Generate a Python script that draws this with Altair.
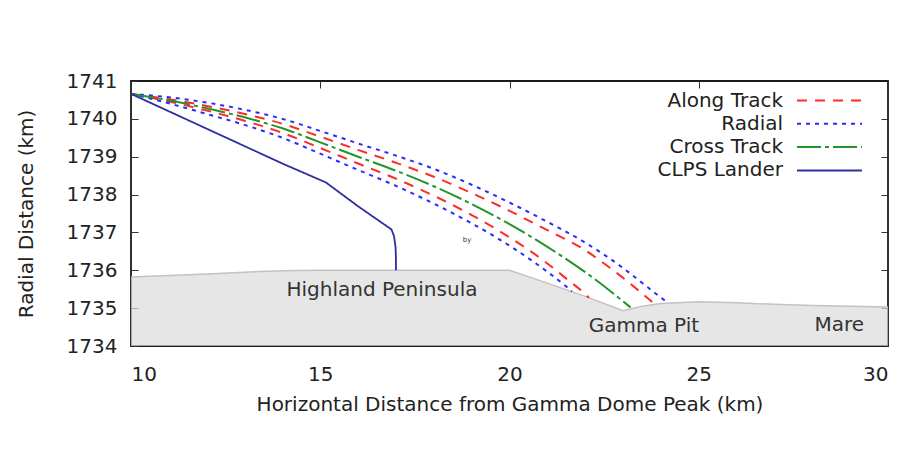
import altair as alt
import pandas as pd

# ---------------- data ----------------
terrain_x = [10, 11, 12, 13, 14, 15, 16, 17, 18, 19, 20, 21, 22, 23, 23.5, 24, 25, 26, 27, 28, 29, 30]
terrain_y = [1735.82, 1735.86, 1735.90, 1735.95, 1735.99, 1736.0, 1736.0, 1736.0, 1736.0, 1736.0,
             1736.0, 1735.66, 1735.31, 1734.93, 1735.05, 1735.12, 1735.17, 1735.14, 1735.10, 1735.07,
             1735.05, 1735.03]

cross_x = [10, 11, 12, 13, 14, 15, 16, 17, 18, 19, 20, 21, 22, 22.5, 23, 23.2]
cross_y = [1740.66, 1740.49, 1740.28, 1740.04, 1739.75, 1739.38, 1739.00, 1738.63, 1738.22, 1737.75,
           1737.22, 1736.62, 1735.95, 1735.58, 1735.18, 1735.02]

along_hi_x = [10, 11, 12, 13, 14, 15, 16, 17, 18, 19, 20, 21, 22, 22.5, 23, 23.5, 23.84]
along_hi_y = [1740.66, 1740.52, 1740.34, 1740.13, 1739.87, 1739.53, 1739.18, 1738.84, 1738.47, 1738.04,
              1737.57, 1737.06, 1736.53, 1736.18, 1735.80, 1735.39, 1735.10]
along_lo_x = [10, 11, 12, 13, 14, 15, 16, 17, 18, 19, 20, 21, 21.5, 22, 22.1]
along_lo_y = [1740.66, 1740.46, 1740.22, 1739.95, 1739.63, 1739.23, 1738.82, 1738.42, 1737.97, 1737.46,
              1736.87, 1736.18, 1735.78, 1735.37, 1735.27]

radial_hi_x = [10, 11, 12, 13, 14, 15, 16, 17, 18, 19, 20, 21, 22, 23, 23.5, 24, 24.2]
radial_hi_y = [1740.66, 1740.57, 1740.43, 1740.24, 1740.00, 1739.68, 1739.35, 1739.03, 1738.68, 1738.26,
               1737.79, 1737.28, 1736.73, 1736.06, 1735.67, 1735.28, 1735.13]
radial_lo_x = [10, 11, 12, 13, 14, 15, 16, 17, 18, 19, 20, 21, 21.5, 21.65]
radial_lo_y = [1740.66, 1740.41, 1740.13, 1739.84, 1739.50, 1739.08, 1738.65, 1738.23, 1737.76, 1737.24,
               1736.65, 1735.96, 1735.57, 1735.44]

lander_x = [10, 11, 12, 13, 14, 15.15, 16.0, 16.88, 16.95, 16.99, 17.0, 17.0]
lander_y = [1740.66, 1740.20, 1739.74, 1739.28, 1738.82, 1738.32, 1737.69, 1737.08, 1736.9, 1736.6, 1736.3, 1736.0]

series_names = ["Along Track", "Radial", "Cross Track", "CLPS Lander"]
series_colors = ["#ff2a2a", "#2a2aff", "#22962a", "#2e2e9e"]
series_dashes = [[10, 8], [4, 5], [24, 4, 4, 4], [1, 0]]

label_text = ["Highland Peninsula", "Gamma Pit", "Mare"]
label_x = [16.63, 23.55, 28.71]
label_y = [1735.47, 1734.52, 1734.55]

note_text = ["by"]
note_x = [18.88]
note_y = [1736.79]

x_ticks = [10, 15, 20, 25, 30]
y_ticks = [1734, 1735, 1736, 1737, 1738, 1739, 1740, 1741]

# ---------------- tables ----------------
rows = []
def add(name, line, xs, ys):
    for i, (a, b) in enumerate(zip(xs, ys)):
        rows.append({"x": a, "y": b, "series": name, "line": line, "i": i})

add("Along Track", "a1", along_hi_x, along_hi_y)
add("Along Track", "a2", along_lo_x, along_lo_y)
add("Radial", "r1", radial_hi_x, radial_hi_y)
add("Radial", "r2", radial_lo_x, radial_lo_y)
add("Cross Track", "c1", cross_x, cross_y)
lines_df = pd.DataFrame(rows)
lander_df = pd.DataFrame({"x": lander_x, "y": lander_y, "series": "CLPS Lander", "line": "l1",
                          "i": list(range(len(lander_x)))})
terrain_df = pd.DataFrame({"x": terrain_x, "y": terrain_y})
labels_df = pd.DataFrame({"x": label_x, "y": label_y, "t": label_text})
note_df = pd.DataFrame({"x": note_x, "y": note_y, "t": note_text})

FONT = "DejaVu Sans"
TXT = "#222222"

xs = alt.Scale(domain=[10, 30], nice=False, zero=False)
ys = alt.Scale(domain=[1734, 1741], nice=False, zero=False)

legend = alt.Legend(
    orient="none", legendX=686.5, legendY=7.5, title=None,
    symbolType="M-3,0H3", symbolSize=469, symbolStrokeWidth=2,
    labelAlign="right", labelOffset={"expr": "-58.5"}, labelFont=FONT, labelFontSize=20,
    labelColor=TXT, labelLimit=400, rowPadding=1.3,
)
color = alt.Color("series:N", scale=alt.Scale(domain=series_names, range=series_colors), legend=legend)
dash = alt.StrokeDash("series:N", scale=alt.Scale(domain=series_names, range=series_dashes), legend=legend)

x_axis = alt.Axis(values=x_ticks, title="Horizontal Distance from Gamma Dome Peak (km)", grid=False,
                  domain=False, ticks=False, labelPadding=18, labelFont=FONT, labelFontSize=20,
                  labelColor=TXT, titleFont=FONT, titleFontSize=20, titleFontWeight="normal",
                  titleColor=TXT, titlePadding=10, format="d")
y_axis = alt.Axis(values=y_ticks, title="Radial Distance (km)", grid=False, domain=False,
                  tickSize=7, offset=-7, tickColor="#333333", labelPadding=14, labelFont=FONT,
                  labelFontSize=20, labelColor=TXT, titleFont=FONT, titleFontSize=20,
                  titleFontWeight="normal", titleColor=TXT, titlePadding=30, format="d")

terrain = alt.Chart(terrain_df).mark_area(color="#dcdcdc", line={"color": "#c2c2c2", "strokeWidth": 1.5}).encode(
    x=alt.X("x:Q", scale=xs, axis=x_axis),
    y=alt.Y("y:Q", scale=ys, axis=y_axis),
    y2=alt.datum(1734),
)

traj = alt.Chart(lines_df).mark_line(strokeWidth=2, interpolate="monotone").encode(
    x=alt.X("x:Q", scale=xs, axis=None),
    y=alt.Y("y:Q", scale=ys, axis=None),
    color=color, strokeDash=dash, detail="line:N", order="i:Q",
)
lander = alt.Chart(lander_df).mark_line(strokeWidth=1.8).encode(
    x=alt.X("x:Q", scale=xs, axis=None),
    y=alt.Y("y:Q", scale=ys, axis=None),
    color=color, strokeDash=dash, detail="line:N", order="i:Q",
)

mirror = alt.Chart(terrain_df).mark_point(opacity=0).encode(
    x=alt.X("x:Q", scale=xs, axis=alt.Axis(orient="top", values=[15, 20, 25], labels=False, title=None,
                                           grid=False, domain=False, tickSize=7, offset=-7,
                                           tickColor="#333333")),
    y=alt.Y("y:Q", scale=ys, axis=alt.Axis(orient="right", values=[1735, 1736, 1737, 1738, 1739, 1740],
                                           labels=False, title=None, grid=False, domain=False,
                                           tickSize=7, offset=-7, tickColor="#333333")),
)

labels = alt.Chart(labels_df).mark_text(font=FONT, fontSize=20, color="#333333").encode(
    x=alt.X("x:Q", scale=xs, axis=None), y=alt.Y("y:Q", scale=ys, axis=None), text="t:N")
note = alt.Chart(note_df).mark_text(font=FONT, fontSize=7, color="#333333").encode(
    x=alt.X("x:Q", scale=xs, axis=None), y=alt.Y("y:Q", scale=ys, axis=None), text="t:N")

chart = alt.layer(terrain, mirror, traj, lander, labels, note).resolve_axis(
    x="independent", y="independent"
).properties(
    width=757, height=265,
    autosize=alt.AutoSizeParams(type="none"),
    padding={"left": 123, "top": 73, "right": 9, "bottom": 100},
    background="white",
).configure_view(stroke="#1a1a1a", strokeWidth=1.8)

chart.save("out.html", embed_options={"renderer": "svg", "actions": False})
